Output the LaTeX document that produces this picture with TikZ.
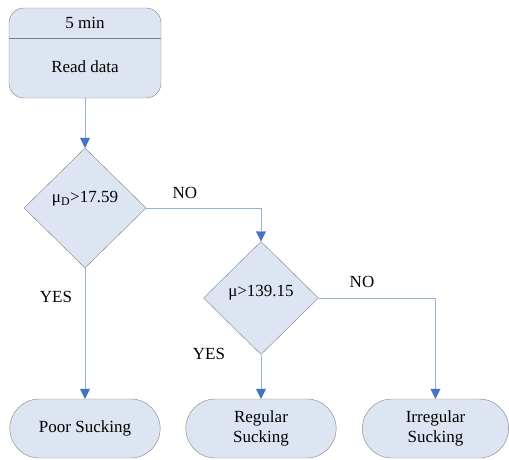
\documentclass[tikz,border=0pt]{standalone}
\usepackage{fontspec}
\setmainfont{Liberation Serif}
\usetikzlibrary{arrows.meta,positioning,shapes.geometric,shapes.misc}
\definecolor{boxfill}{RGB}{220,229,241}
\definecolor{boxline}{RGB}{128,128,128}
\definecolor{flowline}{RGB}{149,179,215}
\definecolor{tipblue}{RGB}{68,114,196}

\begin{document}
\begin{tikzpicture}[
    x=1pt, y=-1pt,
    every node/.style={font=\fontsize{17}{20}\selectfont},
    readbox/.style={rectangle, rounded corners=15pt, draw=boxline, fill=boxfill,
        minimum width=152pt, minimum height=90pt},
    test/.style={diamond, draw=boxline, fill=boxfill, inner sep=0pt},
    result/.style={rounded rectangle, draw=boxline, fill=boxfill,
        minimum width=157pt, minimum height=59pt, align=center},
    lbl/.style={inner sep=1pt},
    arr/.style={draw=flowline, -{Triangle[length=10pt,width=10pt,color=tipblue]}}
]
\useasboundingbox (0,0) rectangle (509,459);

% input block
\node[readbox] (read) at (85,53) {};
\draw[boxline] ([yshift=-30pt]read.north west) -- ([yshift=-30pt]read.north east);
\node (period) at (85,23) {5 min};
\node (readtxt) at (85,67) {Read data};

% decisions
\node[test, minimum width=122pt, minimum height=120pt] (mud) at (85,208) {};
\node (mudtxt) at ([yshift=9pt]mud.center) {μ\textsubscript{D}>17.59};
\node[test, minimum width=115pt, minimum height=113pt] (mu) at (261,298) {};
\node (mutxt) at ([yshift=5pt]mu.center) {μ>139.15};

% outcomes
\node[result] (poor) at (85,428.5) {Poor Sucking};
\node[result] (regular) at (261,428.5) {Regular\\Sucking};
\node[result, minimum width=153pt] (irregular) at (435.5,428.5) {Irregular\\Sucking};

\draw[arr] (read.south) -- (mud.north);
\draw[arr] (mud.south) -- (poor.north);
\draw[arr] (mud.east) -| (mu.north);
\draw[arr] (mu.south) -- (regular.north);
\draw[arr] (mu.east) -| (irregular.north);

% branch labels
\node[lbl] (no1) at (185,193) {NO};
\node[lbl] (yes1) at (56,297) {YES};
\node[lbl] (no2) at (362,282) {NO};
\node[lbl] (yes2) at (209,354) {YES};
\end{tikzpicture}
\end{document}
